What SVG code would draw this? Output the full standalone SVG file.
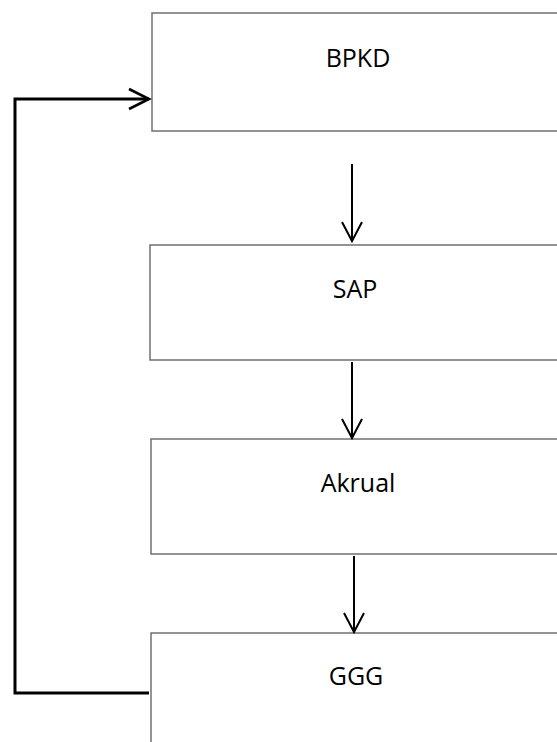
<svg xmlns="http://www.w3.org/2000/svg" width="557" height="742" viewBox="0 0 557 742">
<style>
.box{fill:#ffffff;stroke:#666666;stroke-width:1.4}
.lbl{font-family:"Open Sans","Noto Sans",sans-serif;font-size:25px;fill:#000000;text-anchor:middle}
.arr{fill:none;stroke:#000000;stroke-width:2}
.fb{fill:none;stroke:#000000;stroke-width:3}
</style>
<defs>
<marker id="ah" markerUnits="userSpaceOnUse" markerWidth="24" markerHeight="24" refX="20" refY="11" orient="auto" viewBox="0 0 24 22">
<path d="M1,1 L20,11 L1,21" fill="none" stroke="#000000" stroke-width="2"/>
</marker>
<marker id="ahb" markerUnits="userSpaceOnUse" markerWidth="26" markerHeight="26" refX="21" refY="12" orient="auto" viewBox="0 0 26 24">
<path d="M1,2 L21,12 L1,22" fill="none" stroke="#000000" stroke-width="2.6"/>
</marker>
</defs>
<g id="bpkd">
<rect class="box" x="152" y="13" width="410" height="118"/>
<text class="lbl" x="358" y="67">BPKD</text>
</g>
<g id="sap">
<rect class="box" x="150" y="245" width="412" height="115"/>
<text class="lbl" x="355" y="298">SAP</text>
</g>
<g id="akrual">
<rect class="box" x="151" y="439" width="411" height="115"/>
<text class="lbl" x="358" y="492">Akrual</text>
</g>
<g id="ggg">
<rect class="box" x="151" y="633" width="411" height="120"/>
<text class="lbl" x="356" y="685">GGG</text>
</g>
<g id="connectors">
<line class="arr" x1="352" y1="164" x2="352" y2="241" marker-end="url(#ah)"/>
<line class="arr" x1="352" y1="362" x2="352" y2="438" marker-end="url(#ah)"/>
<line class="arr" x1="354" y1="556" x2="354" y2="632" marker-end="url(#ah)"/>
<path class="fb" d="M149,693 H15 V99 H149" marker-end="url(#ahb)"/>
</g>
</svg>
